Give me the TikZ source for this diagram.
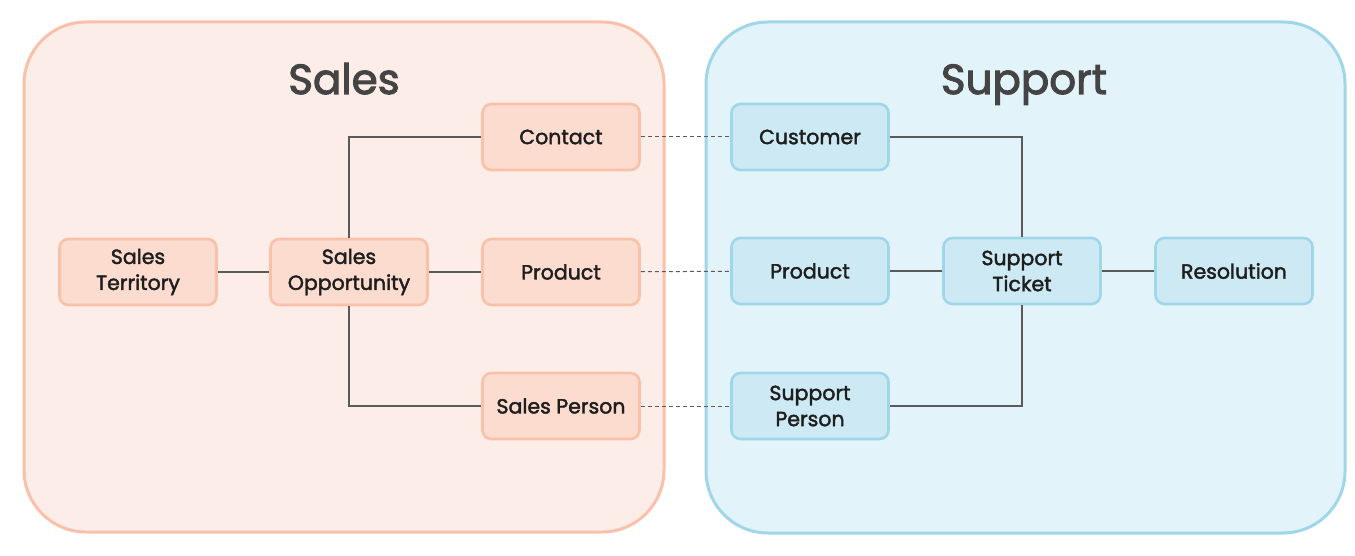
\documentclass[tikz,border=0pt]{standalone}
\usepackage{fontspec}
\setmainfont{Poppins}[FakeBold=2]
\newfontfamily\titlefont{Poppins}[FakeBold=2.5]
\begin{document}
\begin{tikzpicture}[x=1pt,y=-1pt,
  salesbg/.style={fill=salesfill,draw=salesline,line width=3pt,rounded corners=62pt},
  suppbg/.style={fill=suppfill,draw=suppline,line width=3pt,rounded corners=62pt},
  snode/.style={fill=snodefill,draw=salesline,line width=2.6pt,rounded corners=9pt,minimum width=157pt,minimum height=66pt,align=center,font=\fontsize{20.5}{26}\selectfont,text=txt,inner sep=0pt},
  pnode/.style={fill=pnodefill,draw=suppline,line width=2.6pt,rounded corners=9pt,minimum width=157pt,minimum height=66pt,align=center,font=\fontsize{20.5}{26}\selectfont,text=txt,inner sep=0pt},
  link/.style={draw=linkc,line width=1.2pt},
  xlink/.style={draw=linkc,line width=1pt,dash pattern=on 4pt off 3pt},
  title/.style={font=\titlefont\fontsize{42}{48}\selectfont,text=titlec,anchor=base}]
\definecolor{salesfill}{HTML}{FDEDE8}
\definecolor{salesline}{HTML}{F9C0AA}
\definecolor{snodefill}{HTML}{FDDCD0}
\definecolor{suppfill}{HTML}{E3F3FA}
\definecolor{suppline}{HTML}{9FD7E9}
\definecolor{pnodefill}{HTML}{CDEAF4}
\definecolor{linkc}{HTML}{5A5A5A}
\definecolor{txt}{HTML}{1E1E1E}
\definecolor{titlec}{HTML}{444444}
\useasboundingbox (0,0) rectangle (1355,556);
\fill[white] (0,0) rectangle (1355,556);
\path[salesbg] (24,22) rectangle (664,532);
\path[suppbg] (706,22) rectangle (1345,533);
\node[title] (tsales) at (344,94) {Sales};
\node[title] (tsupp) at (1024,94) {Support};
% sales nodes
\node[snode] (terr) at (138,272) {Sales\\Territory};
\node[snode] (opp) at (349,272) {Sales\\Opportunity};
\node[snode] (contact) at (561,137) {Contact};
\node[snode] (sprod) at (561,272) {Product};
\node[snode] (sperson) at (561,406) {Sales Person};
% support nodes
\node[pnode] (cust) at (810,137) {Customer};
\node[pnode] (pprod) at (810,271) {Product};
\node[pnode] (ticket) at (1022,271) {Support\\Ticket};
\node[pnode] (res) at (1234,271) {Resolution};
\node[pnode] (pperson) at (810,406) {Support\\Person};
% links
\draw[link] (terr) -- (opp);
\draw[link] (opp) -- (sprod);
\draw[link] (opp.north) |- (contact.west);
\draw[link] (opp.south) |- (sperson.west);
\draw[link] (pprod) -- (ticket);
\draw[link] (ticket) -- (res);
\draw[link] (cust.east) -| (ticket.north);
\draw[link] (pperson.east) -| (ticket.south);
\draw[xlink] (contact) -- (cust);
\draw[xlink] (sprod) -- (pprod);
\draw[xlink] (sperson) -- (pperson);
\end{tikzpicture}
\end{document}
